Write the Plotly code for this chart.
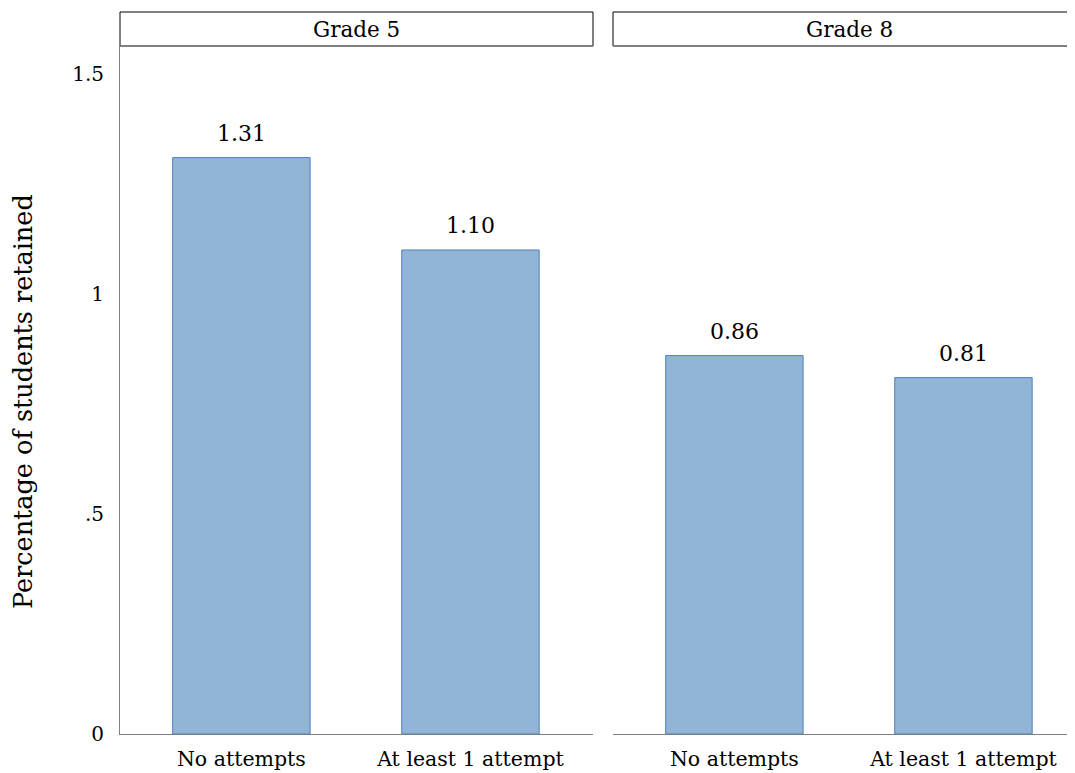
import plotly.graph_objects as go

categories = ["No attempts", "At least 1 attempt"]
grade5 = [1.31, 1.10]
grade8 = [0.86, 0.81]
panel_titles = ["Grade 5", "Grade 8"]
ytick_vals = [0, 0.5, 1, 1.5]
ytick_text = ["0", ".5", "1", "1.5"]
y_title = "Percentage of students retained"

FONT = "DejaVu Serif"
OFF = 8  # page body margin
W, H = 1075 - OFF, 773 - OFF

def px(x):
    return (x - OFF) / W

def py(y):
    return 1 - (y - OFF) / H

fig = go.Figure()
for i, vals in enumerate([grade5, grade8]):
    xa = "x" if i == 0 else "x2"
    ya = "y" if i == 0 else "y2"
    fig.add_trace(go.Bar(
        x=[0, 1], y=vals,
        width=0.6,
        marker=dict(color="#92B4D7", line=dict(color="#4F81BD", width=1)),
        xaxis=xa, yaxis=ya,
        showlegend=False,
    ))
    for j, v in enumerate(vals):
        fig.add_annotation(x=j, y=v, xref=xa, yref=ya, text=f"{v:.2f}",
                           showarrow=False, yanchor="bottom", yshift=10,
                           font=dict(family=FONT, size=22, color="#000000"))

ydom = [py(734), py(46)]
common_x = dict(
    tickvals=[0, 1], ticktext=categories, showgrid=False, zeroline=False,
    showline=True, linecolor="#7f7f7f", linewidth=1, ticks="",
    automargin=False, ticklabelstandoff=6,
    tickfont=dict(family=FONT, size=20.5, color="#000000"),
)
fig.update_layout(
    width=W, height=H,
    margin=dict(l=0, r=0, t=0, b=0, autoexpand=False),
    plot_bgcolor="white", paper_bgcolor="white",
    xaxis=dict(domain=[px(120), px(593)], range=[-0.53, 1.535], **common_x),
    xaxis2=dict(domain=[px(613), 1.0], range=[-0.53, 1.487], **common_x),
    yaxis=dict(domain=ydom, range=[0, 1.5636], tickvals=ytick_vals, ticktext=ytick_text,
               showgrid=False, zeroline=False, showline=True, linecolor="#7f7f7f",
               linewidth=1, ticks="", automargin=False, ticklabelstandoff=11,
               tickfont=dict(family=FONT, size=20, color="#000000")),
    yaxis2=dict(domain=ydom, range=[0, 1.5636], anchor="x2", showticklabels=False,
                showgrid=False, zeroline=False, showline=False, ticks="", automargin=False),
)

fig.add_annotation(xref="paper", yref="paper", x=px(23), y=py(402), text=y_title,
                   textangle=-90, showarrow=False, xanchor="center", yanchor="middle",
                   font=dict(family=FONT, size=25.5, color="#000000"))

strips = [(120, 593), (613, 1086)]
for (x0, x1), title in zip(strips, panel_titles):
    fig.add_shape(type="rect", xref="paper", yref="paper",
                  x0=px(x0), x1=px(x1), y0=py(46), y1=py(12),
                  line=dict(color="#000000", width=1), fillcolor="white", layer="above")
    fig.add_shape(type="line", xref="paper", yref="paper",
                  x0=px(x0), x1=px(x1), y0=py(46), y1=py(46),
                  line=dict(color="#7f7f7f", width=1.5), layer="above")
    fig.add_annotation(xref="paper", yref="paper", x=(px(x0) + px(x1)) / 2, y=(py(12) + py(46)) / 2,
                       text=title, showarrow=False, xanchor="center", yanchor="middle",
                       font=dict(family=FONT, size=21.5, color="#000000"))

fig.write_html("out.html")
